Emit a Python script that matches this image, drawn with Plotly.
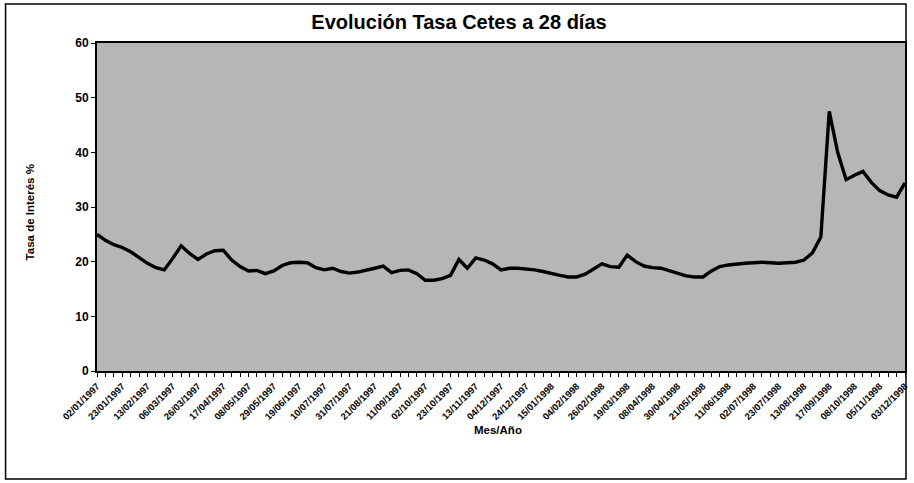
import plotly.graph_objects as go

# Tick labels (every 3rd weekly auction)
tick_labels = [
    "02/01/1997", "23/01/1997", "13/02/1997", "06/03/1997", "26/03/1997", "17/04/1997",
    "08/05/1997", "29/05/1997", "19/06/1997", "10/07/1997", "31/07/1997", "21/08/1997",
    "11/09/1997", "02/10/1997", "23/10/1997", "13/11/1997", "04/12/1997", "24/12/1997",
    "15/01/1998", "04/02/1998", "26/02/1998", "19/03/1998", "08/04/1998", "30/04/1998",
    "21/05/1998", "11/06/1998", "02/07/1998", "23/07/1998", "13/08/1998", "17/09/1998",
    "08/10/1998", "05/11/1998", "03/12/1998",
]

# Cetes 28-day rate, weekly observations (%)
rates = [
    25.0, 23.9, 23.1, 22.6, 21.8, 20.8, 19.7, 18.9, 18.5, 20.6,
    22.9, 21.5, 20.4, 21.4, 22.0, 22.1, 20.3, 19.1, 18.3, 18.4,
    17.8, 18.3, 19.3, 19.8, 19.9, 19.8, 18.9, 18.5, 18.8, 18.2,
    17.9, 18.1, 18.4, 18.8, 19.2, 18.0, 18.4, 18.5, 17.8, 16.6,
    16.6, 16.9, 17.5, 20.4, 18.8, 20.7, 20.3, 19.6, 18.5, 18.8,
    18.8, 18.7, 18.5, 18.2, 17.8, 17.5, 17.2, 17.2, 17.7, 18.6,
    19.6, 19.1, 19.0, 21.2, 20.0, 19.2, 18.9, 18.8, 18.3, 17.9,
    17.4, 17.2, 17.2, 18.3, 19.1, 19.4, 19.6, 19.7, 19.8, 19.9,
    19.8, 19.7, 19.8, 19.9, 20.3, 21.6, 24.5, 47.5, 40.0, 35.0,
    35.8, 36.5, 34.5, 33.0, 32.2, 31.8, 34.4,
]

idx = list(range(len(rates)))
tick_positions = idx[::3]

FONT = "Liberation Sans, Arial, sans-serif"

fig = go.Figure()
fig.add_trace(go.Scatter(
    x=idx, y=rates, mode="lines",
    line=dict(color="black", width=3.4),
    hoverinfo="skip", showlegend=False,
))

W, H = 914, 483
L, R, T, B = 97, 4, 43, 112
pw, ph = W - L - R, H - T - B

def px_x(p):
    return (p - L) / pw

def px_y(p):
    return (H - B - p) / ph

fig.update_layout(
    width=W, height=H,
    margin=dict(l=L, r=R, t=T, b=B),
    paper_bgcolor="white",
    plot_bgcolor="#b6b6b6",
    title=dict(
        text="Evolución Tasa Cetes a 28 días",
        x=459 / W, xanchor="center",
        y=1 - 22 / H, yanchor="middle",
        font=dict(family=FONT, size=20, color="black", weight="bold"),
    ),
    xaxis=dict(
        range=[0, len(rates) - 1],
        tickmode="array", tickvals=tick_positions, ticktext=tick_labels,
        tickangle=-45,
        tickfont=dict(family=FONT, size=9.5, color="black", weight="bold"),
        ticks="outside", ticklen=4, tickcolor="black", tickwidth=1,
        minor=dict(dtick=1, tick0=0, ticks="outside", ticklen=4, tickcolor="black"),
        showline=True, linecolor="black", linewidth=2, mirror=True,
        showgrid=False, zeroline=False,
    ),
    yaxis=dict(
        range=[0, 60], tickmode="linear", tick0=0, dtick=10,
        tickfont=dict(family=FONT, size=12, color="black", weight="bold"),
        ticks="outside", ticklen=4, tickcolor="black",
        showline=True, linecolor="black", linewidth=2, mirror=True,
        showgrid=False, zeroline=False,
    ),
    annotations=[
        dict(text="Mes/Año", xref="paper", yref="paper",
             x=px_x(500), y=px_y(430), xanchor="center", yanchor="middle",
             showarrow=False,
             font=dict(family=FONT, size=11.5, color="black", weight="bold")),
        dict(text="Tasa de Interés %", xref="paper", yref="paper",
             x=px_x(30), y=px_y(212), xanchor="center", yanchor="middle",
             textangle=-90, showarrow=False,
             font=dict(family=FONT, size=11.5, color="black", weight="bold")),
    ],
    shapes=[dict(
        type="rect", xref="paper", yref="paper",
        x0=px_x(5), x1=px_x(911), y0=px_y(479), y1=px_y(4),
        line=dict(color="black", width=1.5), fillcolor="rgba(0,0,0,0)",
        layer="below",
    )],
)

fig.write_html(
    "out.html",
    config={"displayModeBar": False},
    post_script="document.body.style.margin='0';document.body.style.overflow='hidden';",
)
